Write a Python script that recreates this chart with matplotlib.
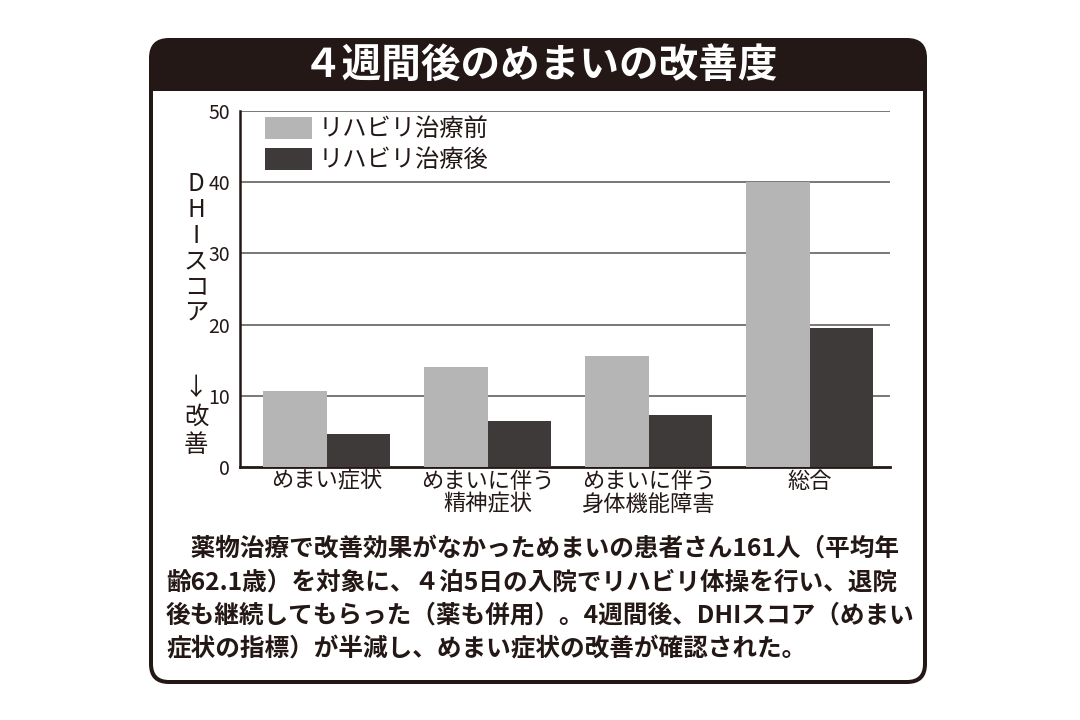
import matplotlib
matplotlib.use("Agg")
import matplotlib.pyplot as plt
from matplotlib.patches import FancyBboxPatch, Rectangle
import numpy as np

plt.rcParams['font.family'] = ['Noto Sans CJK JP', 'DejaVu Sans']

title = "４週間後のめまいの改善度"
categories = ["めまい症状", "めまいに伴う\n精神症状", "めまいに伴う\n身体機能障害", "総合"]
series_names = ["リハビリ治療前", "リハビリ治療後"]
before = [10.7, 14.0, 15.6, 40.0]
after = [4.7, 6.5, 7.3, 19.5]
yticks = [0, 10, 20, 30, 40, 50]
ylabel_top = "DHIスコア"
ylabel_bottom = "↓改善"
body_lines = [
    "　薬物治療で改善効果がなかっためまいの患者さん161人（平均年",
    "齢62.1歳）を対象に、４泊5日の入院でリハビリ体操を行い、退院",
    "後も継続してもらった（薬も併用）。4週間後、DHIスコア（めまい",
    "症状の指標）が半減し、めまい症状の改善が確認された。",
]

DARK = "#231815"
LIGHT_BAR = "#b5b5b5"
DARK_BAR = "#3e3a39"

W, H = 1080, 720
fig = plt.figure(figsize=(W / 100, H / 100), dpi=100)
fig.patch.set_facecolor("white")

bg = fig.add_axes([0, 0, 1, 1])
bg.set_xlim(0, W)
bg.set_ylim(H, 0)
bg.axis("off")

# outer rounded box (dark), then white body
x0, y0, x1, y1 = 149, 38, 927, 684
bg.add_patch(FancyBboxPatch((x0, y0), x1 - x0, y1 - y0,
                            boxstyle="round,pad=0,rounding_size=20",
                            fc=DARK, ec="none", zorder=1))
bt = 4
hb = 91
bg.add_patch(FancyBboxPatch((x0 + bt, hb), x1 - x0 - 2 * bt, y1 - bt - hb,
                            boxstyle="round,pad=0,rounding_size=16",
                            fc="white", ec="none", zorder=2))
bg.add_patch(Rectangle((x0 + bt, hb), x1 - x0 - 2 * bt, 30,
                       fc="white", ec="none", zorder=2))

bg.text(540, 65, title, color="white", fontsize=28.5, fontweight="bold",
        ha="center", va="center", zorder=3)

# vertical y label
for i, ch in enumerate(ylabel_top):
    bg.text(196, 184 + i * 25.8, ch, fontsize=17.5, ha="center", va="center",
            color="#231815", zorder=3)
for i, ch in enumerate(ylabel_bottom):
    bg.text(196, 388 + i * 28.5, ch, fontsize=17.5, ha="center", va="center",
            color="#231815", zorder=3)

# body text
for i, line in enumerate(body_lines):
    bg.text(166, 549 + i * 33.5, line, fontsize=17.75, fontweight="bold",
            ha="left", va="center", color="#231815", zorder=3)

# chart axes: x from 240 to 890, y 0 at 467, 50 at 111
ax = fig.add_axes([240 / W, 1 - 467 / H, (890 - 240) / W, (467 - 111) / H])
ax.set_facecolor("none")
x = np.arange(len(categories))
bw = 0.395
ax.bar(x - bw / 2, before, width=bw, color=LIGHT_BAR, zorder=3, label=series_names[0])
ax.bar(x + bw / 2, after, width=bw, color=DARK_BAR, zorder=3, label=series_names[1])
ax.set_xlim(-0.54, 3.50)
ax.set_ylim(0, 50)
ax.set_yticks(yticks)
ax.set_yticklabels([str(t) for t in yticks], fontsize=14, color="#231815")
ax.tick_params(axis="y", length=0, pad=7)
ax.tick_params(axis="x", length=0, pad=2)
ax.set_xticks(x)
ax.set_xticklabels(categories, fontsize=16, color="#231815", linespacing=1.0)
for t in yticks[1:]:
    ax.axhline(t, color="#6f6c6b", lw=1.3, zorder=1)
for s in ["top", "right"]:
    ax.spines[s].set_visible(False)
ax.spines["left"].set_color("#231815")
ax.spines["left"].set_linewidth(1.8)
ax.spines["bottom"].set_color("#231815")
ax.spines["bottom"].set_linewidth(2)

leg = ax.legend(loc="upper left", bbox_to_anchor=(0.024, 1.012), frameon=False,
                fontsize=17.5, handlelength=1.93, handleheight=1.03,
                handletextpad=0.25, labelspacing=0.2, borderaxespad=0)
for t in leg.get_texts():
    t.set_color("#231815")

fig.savefig("out.png", dpi=100, facecolor="white")
